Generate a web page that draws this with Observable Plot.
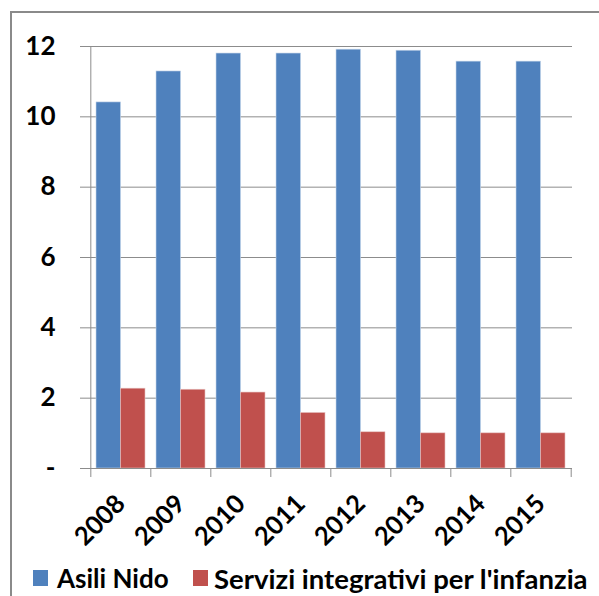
<!DOCTYPE html>
<html>
<head>
<meta charset="utf-8">
<script src="https://cdn.jsdelivr.net/npm/d3@7"></script>
<script src="https://cdn.jsdelivr.net/npm/@observablehq/plot@0.6"></script>
<style>
  html, body { margin: 0; padding: 0; background: #fff; }
  #wrap { position: relative; width: 599px; height: 596px; overflow: hidden; background: #fff; font-family: Lato, "Open Sans", sans-serif; }
  #frame { position: absolute; left: 10px; top: 11px; width: 620px; height: 620px; border-left: 2px solid #8a8a8a; border-top: 2px solid #8a8a8a; }
  #chart { position: absolute; left: 0; top: 0; }
  .lg { position: absolute; font-weight: bold; color: #000; white-space: nowrap; line-height: 1; }
  .sw { position: absolute; width: 15px; height: 16px; }
</style>
</head>
<body>
<div id="wrap">
  <div id="frame"></div>
  <div id="chart"></div>
</div>
<script>
const years = ["2008", "2009", "2010", "2011", "2012", "2013", "2014", "2015"];
const asiliNido = [10.41, 11.29, 11.80, 11.80, 11.91, 11.88, 11.57, 11.57];
const serviziIntegrativi = [2.27, 2.24, 2.16, 1.58, 1.03, 1.00, 1.00, 1.00];
const seriesNames = ["Asili Nido", "Servizi integrativi per l'infanzia"];
const seriesColors = ["#4f81bd", "#c0504d"];
const yTicks = [0, 2, 4, 6, 8, 10, 12];

const data = years.map((y, i) => ({year: y, asili: asiliNido[i], servizi: serviziIntegrativi[i]}));

const W = 599, H = 560;
const mL = 89, mR = 27, mT = 46, mB = H - 468;
const pInner = 0.19, pOuter = 0.095;
const step = (W - mL - mR) / (years.length - pInner + 2 * pOuter);
const bw = step * (1 - pInner);
const gridColor = "#8c8c8c";

const plot = Plot.plot({
  width: W,
  height: H,
  marginLeft: mL,
  marginRight: mR,
  marginTop: mT,
  marginBottom: mB,
  style: {fontFamily: "Lato, 'Open Sans', sans-serif", background: "transparent", overflow: "visible"},
  x: {type: "band", domain: years, paddingInner: pInner, paddingOuter: pOuter, label: null},
  y: {domain: [0, 12], label: null},
  marks: [
    Plot.gridY(yTicks, {stroke: gridColor, strokeOpacity: 1, strokeWidth: 1}),
    Plot.axisY(yTicks, {
      tickSize: 9, tickPadding: 25, stroke: gridColor, fontSize: 26, fontWeight: "bold", fill: "#000",
      tickFormat: d => d === 0 ? "-" : String(d), label: null
    }),
    Plot.ruleX([years[0]], {x: d => d, dx: -step / 2, y1: 0, y2: 12, stroke: gridColor}),
    Plot.barY(data, {x: "year", y: "asili", fill: seriesColors[0], insetRight: bw / 2, insetLeft: 0, stroke: "#c6d6ea", strokeWidth: 0.6}),
    Plot.barY(data, {x: "year", y: "servizi", fill: seriesColors[1], insetLeft: bw / 2, insetRight: 0, stroke: "#e6c4c3", strokeWidth: 0.6}),
    Plot.ruleY([0], {stroke: gridColor, strokeWidth: 1}),
    Plot.ruleX(years, {x: d => d, dx: -step / 2, stroke: gridColor, insetTop: 468 - mT, insetBottom: -9}),
    Plot.ruleX([years[years.length - 1]], {x: d => d, dx: step / 2, stroke: gridColor, insetTop: 468 - mT, insetBottom: -9}),
    Plot.axisX({
      tickSize: 0, tickRotate: -45, tickPadding: 31, dx: 0, fontSize: 25.5, fontWeight: "bold", fill: "#000", label: null
    })
  ]
});
document.getElementById("chart").appendChild(plot);

// Legend
const wrap = document.getElementById("wrap");
const legendPos = [{sw: 33, tx: 57, fs: 26}, {sw: 193, tx: 214, fs: 27.5}];
seriesNames.forEach((name, i) => {
  const s = document.createElement("div");
  s.className = "sw";
  s.style.left = legendPos[i].sw + "px";
  s.style.top = "570px";
  s.style.background = seriesColors[i];
  wrap.appendChild(s);
  const t = document.createElement("div");
  t.className = "lg";
  t.style.left = legendPos[i].tx + "px";
  t.style.top = "565px";
  t.style.fontSize = legendPos[i].fs + "px";
  t.textContent = name;
  wrap.appendChild(t);
});
</script>
</body>
</html>
